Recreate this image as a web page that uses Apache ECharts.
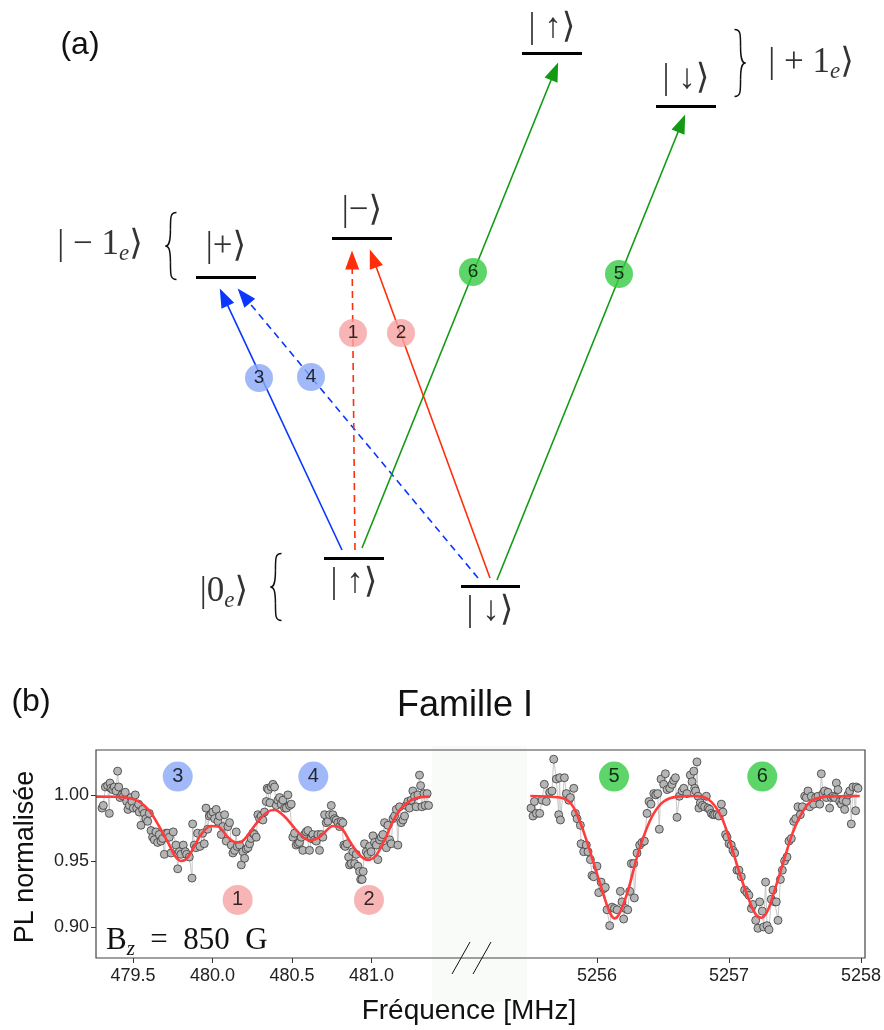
<!DOCTYPE html>
<html><head><meta charset="utf-8">
<script src="https://cdn.jsdelivr.net/npm/echarts@6/dist/echarts.min.js"></script>
<style>html,body{margin:0;padding:0;background:#fff}#c{width:884px;height:1030px}</style>
</head><body><div id="c"></div>
<script>
// ---------- (b) spectrum data : [frequency MHz, normalised PL] ----------
const leftPoints = [
[479.305,0.990],[479.313,0.992],[479.326,1.006],[479.340,1.007],[479.351,0.986],[479.355,1.009],[479.361,1.005],[479.372,1.004],[479.382,1.006],[479.393,1.003],[479.403,1.018],[479.410,1.006],[479.418,0.998],[479.430,1.000],[479.439,0.999],[479.451,1.002],[479.460,0.995],[479.468,0.989],[479.477,0.992],[479.487,0.998],[479.493,0.995],[479.502,0.990],[479.514,1.000],[479.523,0.990],[479.535,0.993],[479.539,0.987],[479.550,0.977],[479.560,0.989],[479.571,0.986],[479.581,0.982],[479.592,0.980],[479.602,0.986],[479.613,0.973],[479.623,0.968],[479.634,0.966],[479.644,0.972],[479.655,0.964],[479.665,0.970],[479.676,0.965],[479.686,0.967],[479.697,0.955],[479.707,0.971],[479.718,0.971],[479.728,0.968],[479.739,0.956],[479.753,0.972],[479.770,0.962],[479.781,0.944],[479.791,0.957],[479.801,0.955],[479.816,0.962],[479.829,0.957],[479.837,0.955],[479.854,0.953],[479.871,0.937],[479.875,0.978],[479.885,0.962],[479.896,0.960],[479.906,0.971],[479.921,0.961],[479.938,0.971],[479.948,0.963],[479.959,0.990],[479.969,0.974],[479.980,0.984],
[479.990,0.985],[480.002,0.987],[480.013,0.982],[480.023,0.989],[480.034,0.980],[480.044,0.984],[480.055,0.970],[480.065,0.976],[480.076,0.985],[480.086,0.965],[480.097,0.976],[480.107,0.979],[480.118,0.962],[480.128,0.956],[480.139,0.958],[480.149,0.972],[480.155,0.961],[480.170,0.962],[480.181,0.947],[480.191,0.957],[480.202,0.952],[480.212,0.959],[480.223,0.960],[480.233,0.963],[480.243,0.967],[480.254,0.971],[480.264,0.970],[480.275,0.968],[480.285,0.985],[480.296,0.982],[480.306,0.984],[480.317,0.981],[480.327,0.987],[480.338,0.995],[480.344,1.005],[480.352,1.004],[480.361,0.994],[480.369,1.006],[480.380,1.008],[480.390,1.006],[480.401,0.992],[480.411,0.996],[480.422,0.998],[480.432,0.993],[480.443,0.996],[480.453,0.990],[480.464,0.990],[480.474,1.000],[480.485,0.992],[480.495,0.993],[480.505,0.968],[480.516,0.971],[480.526,0.962],[480.537,0.963],[480.547,0.964],[480.558,0.968],[480.568,0.958],[480.579,0.970],[480.589,0.972],[480.600,0.973],[480.610,0.958],[480.621,0.967],[480.631,0.970],[480.642,0.966],[480.652,0.965],[480.663,0.970],
[480.673,0.958],[480.684,0.970],[480.694,0.968],[480.705,0.985],[480.715,0.979],[480.726,0.980],[480.736,0.985],[480.747,0.992],[480.757,0.985],[480.768,0.982],[480.778,0.981],[480.789,0.979],[480.799,0.976],[480.810,0.980],[480.820,0.979],[480.826,0.962],[480.835,0.961],[480.847,0.963],[480.856,0.953],[480.862,0.947],[480.873,0.948],[480.883,0.957],[480.894,0.948],[480.904,0.955],[480.915,0.946],[480.925,0.942],[480.932,0.936],[480.941,0.936],[480.948,0.942],[480.956,0.963],[480.967,0.957],[480.977,0.955],[480.988,0.961],[480.998,0.957],[481.009,0.969],[481.019,0.964],[481.030,0.962],[481.040,0.951],[481.051,0.966],[481.061,0.968],[481.072,0.970],[481.082,0.979],[481.093,0.960],[481.103,0.977],[481.114,0.966],[481.124,0.963],[481.135,0.982],[481.145,0.984],[481.156,0.989],[481.166,0.962],[481.177,0.991],[481.187,0.979],[481.198,0.981],[481.208,0.984],[481.218,0.992],[481.229,0.995],[481.239,0.990],[481.250,0.996],[481.260,1.003],[481.271,0.999],[481.281,0.991],[481.292,1.000],[481.302,1.015],[481.309,1.007],[481.317,0.991],[481.330,1.001],[481.338,0.992],[481.350,1.001],[481.359,0.992]
];
const leftFit = [
[479.267,0.9987],[479.40,0.9986],[479.48,0.9975],[479.53,0.9955],[479.57,0.992],[479.61,0.9868],[479.665,0.976],[479.73,0.9616],[479.765,0.9535],[479.80,0.950],[479.83,0.951],[479.86,0.9555],[479.917,0.968],[479.96,0.9745],[479.99,0.9765],[480.034,0.976],[480.097,0.968],[480.13,0.9648],[480.16,0.964],[480.19,0.9652],[480.223,0.9697],[480.286,0.980],[480.35,0.9874],[480.39,0.9886],[480.453,0.9836],[480.517,0.9747],[480.58,0.967],[480.62,0.9655],[480.66,0.967],[480.70,0.971],[480.757,0.9765],[480.79,0.976],[480.82,0.9735],[480.87,0.9636],[480.925,0.9545],[480.977,0.9507],[481.03,0.9545],[481.083,0.966],[481.135,0.980],[481.187,0.990],[481.25,0.996],[481.30,0.9982],[481.368,0.9987]
];
const rightPoints = [
[5255.500,0.990],[5255.515,0.984],[5255.526,0.995],[5255.541,0.986],[5255.566,0.986],[5255.584,0.996],[5255.601,1.008],[5255.616,0.995],[5255.642,1.002],[5255.659,1.003],[5255.672,1.027],[5255.692,1.012],[5255.710,0.985],[5255.717,1.013],[5255.723,0.981],[5255.753,1.013],[5255.768,1.001],[5255.786,0.996],[5255.798,0.998],[5255.824,1.005],[5255.836,0.986],[5255.849,0.982],[5255.874,0.977],[5255.879,0.963],[5255.899,0.957],[5255.919,0.962],[5255.932,0.957],[5255.950,0.951],[5255.962,0.939],[5255.975,0.938],[5256.000,0.946],[5256.013,0.926],[5256.031,0.934],[5256.051,0.929],[5256.063,0.930],[5256.076,0.913],[5256.096,0.901],[5256.114,0.915],[5256.132,0.914],[5256.152,0.913],[5256.177,0.927],[5256.190,0.919],[5256.202,0.906],[5256.215,0.914],[5256.233,0.913],[5256.248,0.927],[5256.260,0.948],[5256.278,0.948],[5256.283,0.922],[5256.303,0.956],[5256.323,0.962],[5256.341,0.964],[5256.359,0.965],[5256.379,0.986],[5256.394,0.995],[5256.409,0.993],[5256.430,1.001],[5256.445,1.000],[5256.460,1.001],[5256.472,0.974],[5256.485,1.012],[5256.505,1.008],[5256.518,1.016],[5256.531,1.004],[5256.551,1.005],[5256.568,1.008],[5256.581,1.011],[5256.594,1.013],[5256.606,0.983],[5256.624,0.999],[5256.644,1.003],[5256.657,1.005],[5256.682,1.001],[5256.707,1.015],[5256.720,1.010],[5256.733,1.018],[5256.740,1.005],[5256.747,1.003],[5256.757,1.025],[5256.765,0.999],[5256.772,0.990],[5256.783,0.994],[5256.798,0.992],[5256.815,0.991],[5256.828,0.999],[5256.841,0.990],[5256.853,0.989],[5256.866,0.986],[5256.879,0.985],[5256.891,0.985],[5256.909,0.985],[5256.924,0.984],[5256.942,0.993],[5256.954,0.987],[5256.974,0.970],[5256.985,0.968],[5257.000,0.963],[5257.017,0.962],[5257.030,0.958],[5257.043,0.956],[5257.060,0.943],[5257.075,0.943],[5257.093,0.938],[5257.118,0.928],[5257.136,0.926],[5257.151,0.924],[5257.169,0.914],[5257.182,0.917],[5257.202,0.905],[5257.219,0.899],[5257.232,0.919],[5257.252,0.912],[5257.262,0.900],[5257.277,0.934],[5257.288,0.901],[5257.303,0.898],[5257.320,0.921],[5257.333,0.928],[5257.346,0.919],[5257.358,0.919],[5257.371,0.905],[5257.389,0.936],[5257.404,0.943],[5257.421,0.950],[5257.439,0.953],[5257.454,0.965],[5257.472,0.967],[5257.490,0.980],[5257.505,0.982],[5257.522,0.991],[5257.540,0.985],[5257.555,0.991],[5257.573,0.999],[5257.586,0.998],[5257.598,1.003],[5257.611,0.991],[5257.623,0.999],[5257.641,0.993],[5257.656,0.998],[5257.674,0.999],[5257.687,0.993],[5257.699,1.016],[5257.712,1.001],[5257.724,1.003],[5257.737,0.998],[5257.750,1.002],[5257.762,0.990],[5257.775,0.998],[5257.788,0.999],[5257.800,0.998],[5257.813,1.009],[5257.825,1.004],[5257.838,0.995],[5257.851,0.993],[5257.863,0.996],[5257.876,0.989],[5257.889,0.995],[5257.901,1.000],[5257.914,1.003],[5257.926,0.978],[5257.939,1.006],[5257.959,0.988],[5257.964,1.006],[5257.977,1.005]
];
const rightFit = [
[5255.495,0.9992],[5255.72,0.998],[5255.80,0.9937],[5255.86,0.9823],[5255.924,0.9646],[5255.987,0.9444],[5256.05,0.9242],[5256.10,0.9103],[5256.135,0.9065],[5256.177,0.9116],[5256.24,0.9293],[5256.30,0.952],[5256.366,0.972],[5256.43,0.986],[5256.505,0.995],[5256.606,0.9987],[5256.727,0.9992],[5256.828,0.9975],[5256.904,0.990],[5256.967,0.9773],[5257.03,0.957],[5257.093,0.9368],[5257.157,0.919],[5257.207,0.909],[5257.245,0.907],[5257.295,0.9128],[5257.358,0.9318],[5257.42,0.952],[5257.485,0.972],[5257.55,0.986],[5257.62,0.995],[5257.737,0.9987],[5257.99,0.9992]
];
const xTicksLeft = [479.5, 480.0, 480.5, 481.0];
const xTicksRight = [5256, 5257, 5258];
const yTicks = [0.90, 0.95, 1.00];
// peak markers: [number, frequency, PL, family]
const peakMarksLeft = [['3',479.781,1.0139,'blue'],['4',480.634,1.0139,'blue'],['1',480.158,0.9205,'red'],['2',480.984,0.9205,'red']];
const peakMarksRight = [['5',5256.129,1.0139,'green'],['6',5257.252,1.0139,'green']];

// ---------- (a) level scheme (diagram units, energy upward) ----------
// [x start, x end, energy]
const levels = [[196,256,383],[332,392,422],[522,582,607],[656,716,554],[324,384,102],[461,520,74]];
// [text, x, energy]
const stateLabels = [['|+⟩',226,413],['|−⟩',362,449],['| ↑⟩',552,632],['| ↓⟩',686,581],['| ↑⟩',354,77],['| ↓⟩',490,49]];
// [ket body, subscript, x, energy]
const manifoldLabels = [['| − 1','e',100,415],['| + 1','e',811,597],['|0','e',224,68]];
// [side, x, energy centre, height]
const braces = [['left',171,414,67],['right',740,597,67],['left',276,73,67]];
// [number, x0, E0, x1, E1, family, dashed]
const transitions = [
 ['3',342,110,223.8,362.8,'blue',false],
 ['4',478,82,243.7,364.1,'blue',true],
 ['1',355,110,352.1,400,'red',true],
 ['2',490,82,373.1,401.5,'red',false],
 ['6',362,112,554.6,588.7,'green',false],
 ['5',497,80,681.6,536.7,'green',false]
];
// [number, x, energy, family]
const transitionMarks = [['3',259,282,'blue'],['4',311,283,'blue'],['1',353,327,'red'],['2',401,327,'red'],['6',473,388,'green'],['5',619,386,'green']];

const lineColor = {blue:'#0a36ff', red:'#ff2e0a', green:'#139a13'};
const markColor = {blue:'#89a7f6', red:'#f6a2a2', green:'#35cb42'};
const SANS = 'Liberation Sans, Arial, sans-serif';
const SERIF = 'Liberation Serif, DejaVu Serif, serif';

const chart = echarts.init(document.getElementById('c'), null, {renderer:'canvas'});

const pointSeries = (data, xi) => ({
  type:'line', xAxisIndex:xi, yAxisIndex:xi, data, symbol:'circle', symbolSize:8, showSymbol:true,
  lineStyle:{color:'#c8c8c8', width:1}, itemStyle:{color:'#b5b5b5', borderColor:'#3a3a3a', borderWidth:0.8},
  z:2, silent:true
});
const fitSeries = (data, xi) => ({
  type:'line', xAxisIndex:xi, yAxisIndex:xi, data, smooth:0.35, symbol:'none',
  lineStyle:{color:'#ff3b3b', width:2.6}, z:3, silent:true
});
const markSeries = (marks, xi, yi, size, fs) => ({
  type:'scatter', xAxisIndex:xi, yAxisIndex:yi, symbolSize:size, z:5, silent:true,
  data: marks.map(m => ({name:m[0], value:[m[1], m[2]], itemStyle:{color:markColor[m[3]]}})),
  label:{show:true, position:'inside', formatter:p=>p.name, color:'#000', fontSize:fs, fontFamily:SANS}
});
const textSeries = (data, richCfg) => ({
  type:'scatter', xAxisIndex:2, yAxisIndex:2, symbolSize:1, itemStyle:{color:'rgba(0,0,0,0)'}, silent:true, z:6,
  data, label:Object.assign({show:true, position:'inside', color:'#000'}, richCfg)
});

const baseGraphic = [
  {id:'patch', type:'rect', z:-1, shape:{x:432, y:746, width:95, height:256}, style:{fill:'#f9fbf9'}},
  {id:'frame', type:'rect', z:10, shape:{x:96, y:750, width:769, height:208}, style:{fill:null, stroke:'#444', lineWidth:1.2}},
  {id:'brk1', type:'line', z:10, shape:{x1:452, y1:974, x2:470, y2:942}, style:{stroke:'#111', lineWidth:1}},
  {id:'brk2', type:'line', z:10, shape:{x1:473, y1:974, x2:491, y2:942}, style:{stroke:'#111', lineWidth:1}},
  {id:'ta', type:'text', z:10, x:80, y:45, style:{text:'(a)', font:'32px '+SANS, fill:'#111', align:'center', verticalAlign:'middle'}},
  {id:'tb', type:'text', z:10, x:31, y:702, style:{text:'(b)', font:'32px '+SANS, fill:'#111', align:'center', verticalAlign:'middle'}},
  {id:'tf', type:'text', z:10, x:465, y:706, style:{text:'Famille I', font:'36px '+SANS, fill:'#111', align:'center', verticalAlign:'middle'}},
  {id:'ty', type:'text', z:10, x:26, y:857, rotation:Math.PI/2, style:{text:'PL normalisée', font:'27px '+SANS, fill:'#111', align:'center', verticalAlign:'middle'}},
  {id:'tx', type:'text', z:10, x:469, y:1011, style:{text:'Fréquence [MHz]', font:'28px '+SANS, fill:'#111', align:'center', verticalAlign:'middle'}},
  {id:'bz', type:'text', z:10, x:106, y:941, style:{text:'{b|B}{z|z}{b|  =  850  G}', verticalAlign:'middle', align:'left',
    rich:{b:{fontSize:31, fontFamily:SERIF, fill:'#111', lineHeight:34}, z:{fontSize:21, fontStyle:'italic', fontFamily:SERIF, fill:'#111', padding:[16,0,0,0], lineHeight:20}}}}
];

const option = {
  animation:false,
  backgroundColor:'#fff',
  grid:[
    {left:96, top:750, width:334, height:208, outerBoundsMode:'none', containLabel:false},
    {left:430, top:750, width:435, height:208, outerBoundsMode:'none', containLabel:false},
    {left:0, top:0, width:884, height:660, outerBoundsMode:'none', containLabel:false}
  ],
  xAxis:[
    {gridIndex:0, type:'value', min:479.267, max:481.368, splitLine:{show:false}, axisLine:{show:false},
     axisTick:{show:true, customValues:xTicksLeft, length:5, lineStyle:{color:'#333'}},
     axisLabel:{customValues:xTicksLeft, formatter:v=>v.toFixed(1), fontSize:18, color:'#222', margin:9, fontFamily:SANS}},
    {gridIndex:1, type:'value', min:5254.735, max:5258.03, splitLine:{show:false}, axisLine:{show:false},
     axisTick:{show:true, customValues:xTicksRight, length:5, lineStyle:{color:'#333'}},
     axisLabel:{customValues:xTicksRight, formatter:v=>String(Math.round(v)), fontSize:18, color:'#222', margin:9, fontFamily:SANS}},
    {gridIndex:2, type:'value', min:0, max:884, show:false}
  ],
  yAxis:[
    {gridIndex:0, type:'value', min:0.8765, max:1.034, splitLine:{show:false}, axisLine:{show:false},
     axisTick:{show:true, customValues:yTicks, length:5, lineStyle:{color:'#333'}},
     axisLabel:{customValues:yTicks, formatter:v=>v.toFixed(2), fontSize:18, color:'#222', margin:7, fontFamily:SANS}},
    {gridIndex:1, type:'value', min:0.8765, max:1.034, show:false},
    {gridIndex:2, type:'value', min:0, max:660, show:false}
  ],
  series:[
    pointSeries(leftPoints,0), fitSeries(leftFit,0),
    pointSeries(rightPoints,1), fitSeries(rightFit,1),
    markSeries(peakMarksLeft,0,0,30,20), markSeries(peakMarksRight,1,1,30,20),
    {type:'lines', coordinateSystem:'cartesian2d', xAxisIndex:2, yAxisIndex:2, silent:true, z:3,
     data: levels.map(l => ({coords:[[l[0],l[2]],[l[1],l[2]]]})),
     lineStyle:{color:'#000', width:3, opacity:1}, symbol:'none'},
    {type:'lines', coordinateSystem:'cartesian2d', xAxisIndex:2, yAxisIndex:2, silent:true, z:2,
     symbol:['none','triangle'], symbolSize:[0,[14,19]],
     data: transitions.map(t => ({coords:[[t[1],t[2]],[t[3],t[4]]],
        lineStyle:{color:lineColor[t[5]], width:1.6, type: t[6] ? [7,5] : 'solid', opacity:1}})),
     lineStyle:{width:1.6, opacity:1}},
    markSeries(transitionMarks,2,2,28,19),
    textSeries(stateLabels.map(s=>({name:s[0], value:[s[1],s[2]]})),
      {formatter:p=>p.name, fontSize:35, fontFamily:SERIF}),
    textSeries(manifoldLabels.map(s=>({name:s[0], sub:s[1], value:[s[2],s[3]]})),
      {formatter:p=>'{m|'+p.data.name+'}{s|'+p.data.sub+'}{m|⟩}',
       rich:{m:{fontSize:35, fontFamily:SERIF, color:'#000', lineHeight:40},
             s:{fontSize:23, fontStyle:'italic', fontFamily:SERIF, color:'#000', padding:[18,0,0,0], lineHeight:24}}})
  ],
  graphic: baseGraphic
};
chart.setOption(option);

// braces: placed from diagram units through the diagram grid's axes, drawn as bezier halves
function braceParts(side, h) {
  const m = h / 2, w = 11;
  const f = side === 'left' ? (x => x) : (x => w - x);   // mirror for right brace
  const st = {stroke:'#111', lineWidth:1.5, fill:null};
  const seg = (x1,y1,c1x,c1y,c2x,c2y,x2,y2) => ({type:'bezierCurve', silent:true,
    shape:{x1:f(x1), y1, cpx1:f(c1x), cpy1:c1y, cpx2:f(c2x), cpy2:c2y, x2:f(x2), y2}, style:st});
  const s = 0.45 * w;
  return [
    seg(w,0, s,0, s,4, s,m*0.5),
    seg(s,m*0.5, s,m*0.92, s*0.6,m, 0,m),
    seg(0,m, s*0.6,m, s,m*1.08, s,m*1.5),
    seg(s,m*1.5, s,h-4, s,h, w,h)
  ];
}
const braceGraphics = braces.map((b, i) => {
  const p = chart.convertToPixel({gridIndex:2}, [b[1], b[2]]);
  return {id:'brace'+i, type:'group', z:10, x:p[0]-5.5, y:p[1]-b[3]/2, children: braceParts(b[0], b[3])};
});
chart.setOption({graphic: baseGraphic.concat(braceGraphics)});
</script></body></html>
